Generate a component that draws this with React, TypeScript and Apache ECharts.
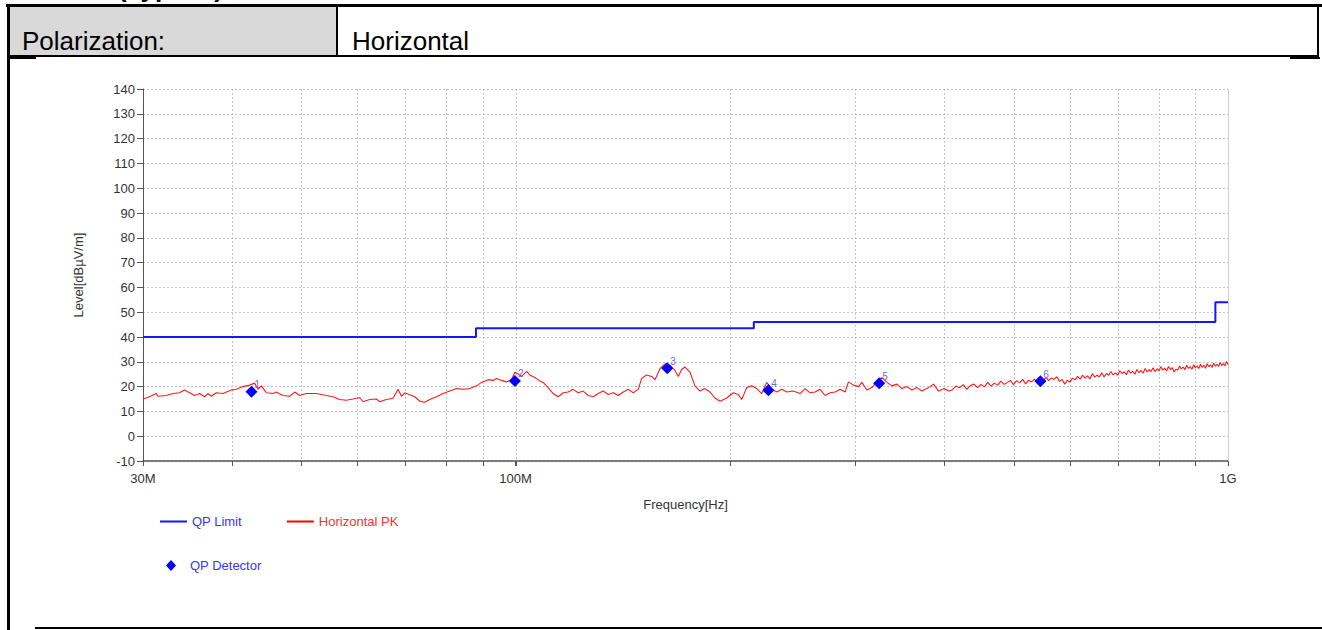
import React, { useEffect, useRef } from "react";
import * as echarts from "echarts";

// ---------- texts ----------
const headingText = "(Typical)";
const polarizationLabel = "Polarization:";
const polarizationValue = "Horizontal";
const xAxisName = "Frequency[Hz]";
const yAxisName = "Level[dBµV/m]";
const seriesNames = ["QP Limit", "Horizontal PK", "QP Detector"];

// ---------- axes ----------
const xTickValuesMHz = [30, 100, 1000];
const xTickLabels = ["30M", "100M", "1G"];
const gridFreqMHz = [40, 50, 60, 70, 80, 90, 100, 200, 300, 400, 500, 600, 700, 800, 900, 1000];

// ---------- QP limit (FCC class B, 3 m) ----------
const limitFreqMHz = [30, 88, 216, 960, 1000];
const limitLevel = [40, 43.5, 46, 54, 54];

// ---------- Horizontal PK trace ----------
const traceFreqMHz = [
  30.0, 30.64, 31.31, 31.47, 32.34, 33.04, 33.76, 34.31, 34.87, 35.44, 36.02, 36.61, 37.0, 37.41, 38.02, 38.84,
  39.91, 40.56, 41.44, 42.34, 43.03, 43.5, 43.98, 44.69, 45.66, 46.16, 47.16, 48.19, 48.98, 49.77, 50.86, 52.54,
  54.27, 55.43, 56.64, 57.88, 59.13, 60.43, 61.08, 62.42, 63.79, 64.47, 65.89, 67.31, 68.41, 69.17, 69.91, 71.05,
  72.21, 73.39, 74.58, 75.79, 77.45, 79.13, 80.86, 82.63, 84.41, 86.27, 88.16, 89.59, 91.53, 93.02, 94.05, 95.57,
  97.13, 98.71, 99.77, 100.85, 101.96, 103.62, 104.73, 106.44, 108.18, 109.34, 111.12, 112.93, 114.78, 116.65,
  118.55, 120.48, 122.45, 124.44, 126.47, 128.53, 130.63, 132.76, 134.93, 137.13, 139.36, 141.64, 143.95, 146.29,
  148.68, 150.32, 152.77, 155.26, 156.93, 159.48, 162.09, 164.73, 167.4, 169.2, 171.06,
  172.92, 175.74, 178.58, 181.5, 184.46, 187.47, 190.53, 193.64, 197.88, 202.15, 205.44, 207.71, 211.11, 214.54,
  218.04, 221.6, 225.22, 228.89, 232.63, 236.4, 240.26, 245.45, 250.86, 254.95, 259.1, 263.34, 267.63, 271.98,
  276.42, 280.92, 285.51, 290.16, 293.28, 298.07, 302.93, 306.28, 311.27, 316.34, 321.5, 326.75, 332.08, 337.49,
  342.99, 348.62, 354.3, 360.08, 365.95, 371.92, 377.98, 386.14, 392.44, 399.84, 405.34,
  410, 415, 420, 425, 430, 435, 440, 445, 450, 455, 460, 465, 470, 475, 480, 485, 490, 495, 500, 505, 510, 515,
  520, 525, 530, 535, 540, 545, 550, 555, 560, 565, 570, 575, 580, 585, 590, 595, 600, 605, 610, 615, 620, 625,
  630, 635, 640, 645, 650, 655, 660, 665, 670, 675, 680, 685, 690, 695, 700, 705, 710, 715, 720, 725, 730, 735,
  740, 745, 750, 755, 760, 765, 770, 775, 780, 785, 790, 795, 800, 805, 810, 815, 820, 825, 830, 835, 840, 845,
  850, 855, 860, 865, 870, 875, 880, 885, 890, 895, 900, 905, 910, 915, 920, 925, 930, 935, 940, 945, 950, 955,
  960, 965, 970, 975, 980, 985, 990, 995, 1000,
];
const traceLevel = [
  15.0, 15.9, 17.2, 16.1, 16.4, 17.2, 17.5, 18.6, 17.5, 16.4, 17.2, 15.9, 17.2, 16.1, 17.5, 17.2,
  18.6, 18.9, 20.0, 20.6, 21.4, 18.9, 20.3, 17.5, 17.2, 17.8, 16.4, 16.1, 17.8, 16.4, 17.2, 17.2,
  16.4, 15.9, 14.8, 14.5, 15.0, 15.6, 13.9, 14.8, 15.0, 13.9, 14.8, 15.3, 18.9, 16.1, 17.5, 16.7,
  15.9, 14.1, 13.7, 14.8, 15.9, 17.2, 18.2, 19.2, 18.9, 19.2, 20.3, 21.7, 22.8, 22.5, 23.3, 22.5,
  21.9, 22.8, 25.8, 25.1, 24.1, 26.1, 24.7, 23.7, 22.3, 21.7, 19.6, 17.2, 15.9, 17.5,
  17.8, 18.9, 17.5, 18.2, 16.4, 15.9, 17.2, 18.2, 16.8, 17.5, 16.4, 17.8, 18.9, 17.5,
  18.9, 23.3, 24.7, 24.1, 22.8, 27.2, 29.2, 28.6, 26.5, 24.1, 26.9,
  27.9, 25.8, 20.3, 18.2, 19.2, 17.8, 15.4, 14.1, 15.4, 17.5, 16.8, 14.8, 19.6, 20.3,
  19.2, 17.2, 21.7, 18.9, 17.8, 18.9, 17.8, 18.2, 17.2, 19.2, 17.5, 17.8, 18.9, 16.4,
  17.5, 17.8, 18.9, 17.8, 21.9, 20.6, 20.0, 21.7, 18.6, 19.6, 21.9, 23.7, 21.7, 20.3,
  21.0, 19.2, 20.0, 18.6, 19.6, 18.2, 19.2, 21.0, 18.2, 19.2, 18.2,
  18.6, 20.2, 19.5, 20.8, 18.9, 20.4, 21.0, 19.6, 20.9, 19.9, 21.7, 20.2, 21.4, 20.6, 22.2, 20.9, 21.6, 22.5, 20.8, 22.4, 21.5, 22.9,
  21.1, 22.6, 21.9, 23.0, 21.4, 22.8, 22.0, 23.7, 22.4, 23.5, 22.9, 24.0, 22.1, 22.9, 21.0, 22.6, 21.8, 23.4, 22.7, 24.1, 23.0, 24.6,
  23.4, 24.3, 23.1, 25.2, 23.8, 24.6, 24.0, 25.6, 23.9, 25.3, 24.6, 26.1, 24.7, 25.5, 24.6, 26.4, 25.2, 26.0, 24.8, 26.7, 25.4, 26.2,
  25.0, 26.9, 25.6, 26.5, 25.4, 27.3, 25.9, 26.8, 26.1, 27.6, 26.0, 27.2, 26.4, 28.0, 26.6, 27.4, 26.3, 28.1, 26.9, 27.6, 25.9, 27.0,
  26.7, 28.3, 27.1, 27.9, 26.8, 28.6, 27.3, 28.1, 27.0, 28.8, 27.5, 28.4, 27.3, 29.0, 27.7, 28.6, 27.4, 29.2, 28.0, 28.8, 27.7, 29.4,
  28.2, 29.0, 28.1, 29.7, 28.5, 29.3, 28.4, 30.1, 28.9,
];

// ---------- QP detector readings ----------
const detectorFreqMHz = [42.6, 99.8, 163.3, 226.4, 323.9, 545.3];
const detectorLevel = [17.9, 22.3, 27.4, 18.5, 21.4, 22.2];
const detectorLabels = ["1", "2", "3", "4", "5", "6"];

const FONT = "Arial, 'Liberation Sans', sans-serif";
const MHZ = 1e6;

export default function App() {
  const ref = useRef<HTMLDivElement>(null);

  useEffect(() => {
    if (!ref.current) return;
    const chart = echarts.init(ref.current, undefined, { renderer: "svg" });

    const crisp = (v: number) => Math.round(v) + 0.5;

    const option: any = {
      animation: false,
      backgroundColor: "#ffffff",
      textStyle: { fontFamily: FONT },
      grid: { left: 143, top: 89, right: 94, bottom: 169, containLabel: false },
      xAxis: {
        type: "log",
        logBase: 10,
        min: 30 * MHZ,
        max: 1000 * MHZ,
        name: xAxisName,
        nameLocation: "middle",
        nameGap: 37,
        nameTextStyle: { fontSize: 13, color: "#333333", fontFamily: FONT },
        axisLine: { show: true, onZero: false, lineStyle: { color: "#555555", width: 1.5 } },
        axisTick: { show: true, length: 5, lineStyle: { color: "#555555" } },
        axisLabel: {
          show: true,
          margin: 11,
          fontSize: 13,
          color: "#333333",
          fontFamily: FONT,
          showMinLabel: true,
          showMaxLabel: true,
          formatter: (v: number) => {
            const m = v / MHZ;
            const i = xTickValuesMHz.findIndex((t) => Math.abs(m - t) < t * 0.01);
            return i >= 0 ? xTickLabels[i] : "";
          },
        },
        splitLine: { show: false },
      },
      yAxis: {
        type: "value",
        min: -10,
        max: 140,
        interval: 10,
        name: yAxisName,
        nameLocation: "middle",
        nameGap: 58,
        nameTextStyle: { fontSize: 13, color: "#333333", fontFamily: FONT },
        axisLine: { show: true, onZero: false, lineStyle: { color: "#555555", width: 1 } },
        axisTick: { show: true, length: 6, lineStyle: { color: "#555555" } },
        axisLabel: { margin: 8, fontSize: 13, color: "#333333", fontFamily: FONT },
        splitLine: { show: true, lineStyle: { color: "#c4c4c4", type: [2, 2], width: 1 } },
      },
      legend: [
        {
          left: 160,
          top: 515,
          padding: 0,
          icon: "rect",
          itemWidth: 27,
          itemHeight: 2,
          itemGap: 45,
          textStyle: { fontSize: 13, fontFamily: FONT },
          data: [
            { name: seriesNames[0], textStyle: { color: "#3535ff" } },
            { name: seriesNames[1], textStyle: { color: "#ff3030" } },
          ],
        },
        {
          left: 166,
          top: 559,
          padding: 0,
          itemWidth: 10,
          itemHeight: 11,
          textStyle: { fontSize: 13, fontFamily: FONT, padding: [0, 0, 0, 9] },
          data: [{ name: seriesNames[2], icon: "diamond", textStyle: { color: "#3535ff" } }],
        },
      ],
      graphic: [
        { type: "rect", shape: { x: 8, y: 6, width: 329, height: 50 }, style: { fill: "#d9d9d9" }, silent: true },
        {
          type: "text",
          x: 118,
          y: -12,
          silent: true,
          style: { text: headingText, fontSize: 26, fontWeight: "bold", fontFamily: FONT, fill: "#000000", verticalAlign: "middle" },
        },
        { type: "rect", shape: { x: 6, y: 4, width: 1316, height: 3 }, style: { fill: "#000000" }, silent: true },
        { type: "rect", shape: { x: 7, y: 4, width: 3, height: 626 }, style: { fill: "#000000" }, silent: true },
        { type: "rect", shape: { x: 336, y: 6, width: 2, height: 50 }, style: { fill: "#000000" }, silent: true },
        { type: "rect", shape: { x: 8, y: 55, width: 1311, height: 2 }, style: { fill: "#000000" }, silent: true },
        { type: "rect", shape: { x: 1317, y: 4, width: 2, height: 53 }, style: { fill: "#000000" }, silent: true },
        { type: "rect", shape: { x: 8, y: 57, width: 28, height: 2 }, style: { fill: "#000000" }, silent: true },
        { type: "rect", shape: { x: 1290, y: 57, width: 30, height: 2 }, style: { fill: "#000000" }, silent: true },
        { type: "rect", shape: { x: 35, y: 627, width: 1287, height: 2 }, style: { fill: "#000000" }, silent: true },
        {
          type: "text",
          x: 22,
          y: 41,
          silent: true,
          style: { text: polarizationLabel, fontSize: 26, fontFamily: FONT, fill: "#000000", verticalAlign: "middle" },
        },
        {
          type: "text",
          x: 352,
          y: 41,
          silent: true,
          style: { text: polarizationValue, fontSize: 26, fontFamily: FONT, fill: "#000000", verticalAlign: "middle" },
        },
      ],
      series: [
        {
          type: "custom",
          name: "grid",
          silent: true,
          clip: false,
          z: 1,
          data: gridFreqMHz.map((f) => [f * MHZ, -10]),
          encode: { x: 0, y: 1 },
          renderItem: (params: any, api: any) => {
            const f = api.value(0);
            const top = api.coord([f, 140]);
            const bot = api.coord([f, -10]);
            const x = crisp(top[0]);
            const isEdge = f >= 999 * MHZ;
            return {
              type: "group",
              children: [
                {
                  type: "line",
                  shape: { x1: x, y1: top[1], x2: x, y2: bot[1] },
                  style: { stroke: isEdge ? "#cfcfcf" : "#c4c4c4", lineWidth: 1, lineDash: isEdge ? null : [2, 2] },
                },
                {
                  type: "line",
                  shape: { x1: x, y1: bot[1], x2: x, y2: bot[1] + 5 },
                  style: { stroke: "#555555", lineWidth: 1 },
                },
              ],
            };
          },
        },
        {
          type: "line",
          name: seriesNames[0],
          step: "end",
          symbol: "none",
          color: "#1414ff",
          lineStyle: { color: "#1414ff", width: 2 },
          z: 3,
          data: limitFreqMHz.map((f, i) => [f * MHZ, limitLevel[i]]),
        },
        {
          type: "line",
          name: seriesNames[1],
          symbol: "none",
          color: "#ff0000",
          lineStyle: { color: "#ff1a1a", width: 1.1 },
          z: 4,
          data: traceFreqMHz.map((f, i) => [f * MHZ, traceLevel[i]]),
        },
        {
          type: "scatter",
          name: seriesNames[2],
          symbol: "diamond",
          symbolSize: 12,
          color: "#0000ff",
          itemStyle: { color: "#0000ff", opacity: 1 },
          z: 5,
          label: {
            show: true,
            position: [9, -6],
            align: "left",
            verticalAlign: "top",
            fontSize: 10,
            color: "#6a6aff",
            fontFamily: FONT,
            formatter: (p: any) => detectorLabels[p.dataIndex],
          },
          data: detectorFreqMHz.map((f, i) => [f * MHZ, detectorLevel[i]]),
        },
      ],
    };

    chart.setOption(option);
    return () => {
      chart.dispose();
    };
  }, []);

  return (
    <div
      ref={ref}
      style={{ position: "fixed", left: 0, top: 0, width: 1322, height: 630, background: "#ffffff" }}
    />
  );
}
